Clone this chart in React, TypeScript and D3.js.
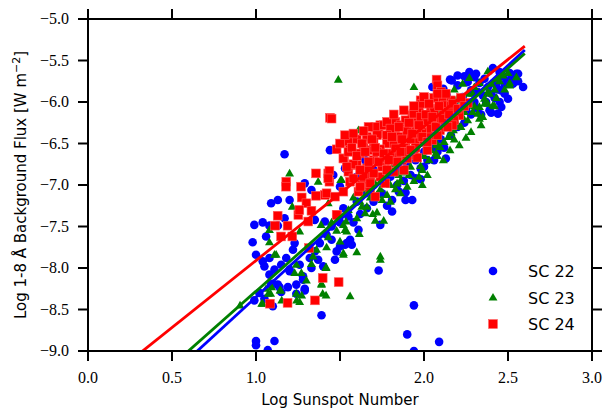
import React from "react";
import * as d3 from "d3";

const xTicks = [0, 0.5, 1.0, 1.5, 2.0, 2.5, 3.0];
const xTickLabels = ["0.0", "0.5", "1.0", "", "2.0", "2.5", "3.0"];
const yTicks = [-9.0, -8.5, -8.0, -7.5, -7.0, -6.5, -6.0, -5.5, -5.0];
const yTickLabels = ["−9.0", "−8.5", "−8.0", "−7.5", "−7.0", "−6.5", "−6.0", "−5.5", "−5.0"];

const seriesNames = ["SC 22", "SC 23", "SC 24"];
const seriesColors = ["#0000ff", "#008000", "#ff0000"];
const fitSlopes = [1.86, 1.79, 1.615];
const fitIntercepts = [-10.21, -10.07, -9.525];
const fitXMax = 2.6;

const sc22: [number, number][] = [
  [1.0,-8.88],[1.0,-8.93],[1.07,-8.99],[1.11,-8.88],[1.9,-8.8],[1.94,-9.0],[2.09,-8.89],[1.39,-8.57],[1.94,-8.45],[1.73,-8.03],
  [1.17,-6.63],[1.44,-6.58],[1.09,-7.22],[1.13,-7.18],[1.2,-7.18],[1.29,-6.98],[1.33,-7.06],[1.04,-7.45],[1.08,-7.49],[0.98,-7.69],
  [1.06,-7.62],[1.17,-7.4],[1.13,-7.49],[1.23,-7.7],[1.35,-7.42],[1.41,-7.44],[1.45,-7.66],[1.54,-7.7],[1.0,-7.84],[1.04,-7.92],
  [1.08,-7.88],[1.11,-8.02],[1.15,-7.96],[1.18,-7.88],[1.2,-8.02],[1.28,-8.14],[1.33,-8.0],[1.37,-7.9],[1.1,-8.19],[1.14,-8.23],
  [1.19,-8.23],[1.29,-8.25],[1.24,-8.31],[1.1,-8.46],[1.22,-7.78],[1.53,-6.8],
  [1.05,-7.98],[1.08,-8.08],[1.09,-8.2],[1.13,-8.2],[1.24,-8.2],[1.29,-8.27],[1.2,-8.04],[1.15,-8.29],[0.99,-8.39],[1.02,-8.3],
  [1.05,-8.37],[1.4,-7.98],[1.47,-7.9],[1.5,-7.74],[1.56,-7.66],[1.28,-8.1],[0.99,-7.48],
  [1.81,-7.18],[1.89,-7.18],[1.93,-7.18],[1.81,-7.32],[1.74,-7.48],[1.61,-7.54],[1.57,-7.72],[1.53,-7.72],[1.48,-7.8],[1.46,-6.88],
  [1.5,-7.02],[1.52,-7.28],[2.05,-5.82],[1.85,-7.08],[1.89,-7.09],[1.98,-6.93],[1.95,-6.92],[1.55,-7.38],[1.6,-7.2],[1.65,-7.1],
  [1.7,-7.0],[1.75,-6.95],[1.8,-6.9],[1.85,-6.8],[1.9,-6.75],[1.95,-6.7],[2.0,-6.6],[2.05,-6.55],[2.1,-6.45],[2.0,-6.78],
  [2.06,-6.7],[1.7,-6.82],[1.6,-6.9],[1.65,-6.7],
  [2.165,-5.74],[2.24,-5.69],[2.31,-5.66],[2.41,-5.59],[2.51,-5.65],[2.56,-5.66],[2.59,-5.82],[2.5,-5.96],[2.45,-6.0],[2.44,-6.14],
  [2.4,-6.13],[2.39,-6.1],[2.115,-5.84],[2.135,-5.92],[2.075,-5.82],[2.47,-5.69],[2.43,-5.8],[2.46,-5.86],[2.33,-5.77],[2.28,-5.86],
  [2.23,-5.94],[2.35,-5.92],[2.13,-6.68],[2.55,-5.66],[2.155,-5.73],[2.5,-5.75],[2.53,-5.78],[2.48,-5.9],[2.42,-5.95],[2.37,-6.0],
  [2.3,-6.0],[2.25,-6.08],[2.2,-6.1],[2.15,-6.2],[2.1,-6.3],[2.05,-6.35],[2.2,-5.8],[2.26,-5.76],[2.36,-5.72],[2.45,-5.64],
  [2.52,-5.72],[2.38,-5.82],[2.32,-5.88],[2.18,-6.0],[2.12,-6.05],[2.46,-6.06],[2.34,-6.15],
  [1.58,-7.45],[1.62,-7.35],[1.66,-7.28],[1.7,-7.2],[1.75,-7.1],[1.78,-7.25],[1.84,-7.0],[1.88,-6.95],[1.92,-6.88],[1.98,-6.8],
  [2.02,-6.7],[2.08,-6.6],[2.12,-6.55],[2.16,-6.4],[2.2,-6.3],[2.24,-6.25],[2.28,-6.15],[2.32,-6.08],[2.4,-5.9],[2.44,-5.85],
  [2.48,-5.78],[2.56,-5.75],[2.3,-5.7],[2.27,-5.64],[2.2,-5.68],[1.42,-7.6],[1.38,-7.7],[1.35,-7.8],[1.32,-7.88],[1.26,-7.96],
  [1.45,-7.5],[1.5,-7.45],
];

const sc23: [number, number][] = [
  [1.49,-5.73],[1.94,-5.82],[1.61,-6.34],[1.2,-6.86],[1.216,-7.26],[1.74,-7.9],
  [1.08,-7.54],[1.08,-7.69],[1.11,-7.84],[1.26,-7.56],[1.387,-7.48],[1.43,-7.63],[1.417,-7.99],[1.39,-8.19],[1.397,-8.31],[1.06,-8.25],
  [1.087,-8.31],[1.04,-8.43],[1.147,-8.27],[1.24,-8.31],[1.26,-8.41],[1.23,-8.06],[1.27,-8.06],[1.417,-8.33],[1.52,-7.82],[1.5,-7.68],
  [1.36,-7.78],[1.34,-7.86],[1.12,-7.84],[1.37,-6.96],[1.504,-6.94],[1.536,-7.44],[1.53,-7.54],[1.43,-7.22],[0.905,-8.45],[1.034,-8.43],
  [1.153,-8.39],[1.242,-8.39],[1.093,-8.23],[1.073,-8.31],[1.143,-8.27],[1.272,-8.33],[1.39,-8.2],[1.56,-8.34],[1.417,-8.0],[1.24,-7.96],
  [1.51,-6.94],[1.52,-7.48],[1.54,-7.56],[1.615,-7.59],[1.52,-7.84],[1.6,-7.81],[1.74,-7.86],[1.63,-7.26],[1.65,-7.34],[1.695,-7.35],
  [1.71,-7.43],[1.76,-7.43],[1.72,-7.33],[1.75,-7.18],[1.83,-7.05],[1.9,-7.02],[1.99,-7.0],[1.97,-6.9],[2.02,-6.88],[1.99,-6.82],
  [2.03,-6.7],[2.07,-6.62],[2.075,-6.52],[1.91,-6.88],[1.85,-6.88],[1.98,-6.77],[1.66,-7.26],
  [1.65,-7.05],[1.7,-6.95],[1.78,-6.85],[1.82,-6.75],[1.88,-6.65],[1.93,-6.55],[1.97,-6.45],[2.02,-6.38],[1.72,-7.12],[1.8,-7.0],
  [1.86,-6.95],[1.58,-7.15],
  [2.28,-6.36],[2.25,-6.43],[2.21,-6.52],[2.155,-6.58],[2.115,-6.7],[2.095,-6.54],[2.34,-6.28],[2.33,-6.2],[2.41,-6.04],[2.51,-5.77],
  [2.23,-5.78],[2.18,-5.85],[2.27,-6.04],[2.29,-6.12],[2.36,-5.96],[2.39,-5.9],[2.33,-6.06],[2.23,-6.18],[2.2,-6.27],[2.175,-6.34],
  [2.145,-6.42],[2.075,-6.5],[2.29,-5.9],[2.33,-5.77],[2.35,-6.18],[2.42,-6.05],[2.51,-5.8],[2.38,-5.63],[2.27,-5.71],[2.45,-5.75],
  [2.48,-5.85],[2.55,-5.7],[2.43,-5.95],[2.38,-6.02],[2.12,-6.3],[2.1,-6.2],[2.15,-6.1],[2.05,-6.3],[2.0,-6.5],[2.22,-5.98],
  [2.3,-5.82],[2.4,-5.78],[2.19,-6.15],
  [1.6,-7.4],[1.62,-7.2],[1.68,-7.15],[1.74,-7.05],[1.78,-7.12],[1.84,-6.98],[1.88,-6.85],[1.92,-6.78],[1.95,-6.62],[2.0,-6.65],
  [2.04,-6.58],[2.08,-6.42],[2.12,-6.48],[2.16,-6.38],[2.18,-6.22],[2.22,-6.3],[2.24,-6.12],[2.26,-6.22],[2.3,-6.05],[2.32,-6.14],
  [2.36,-6.02],[2.38,-5.88],[2.42,-5.85],[2.44,-5.72],[2.47,-5.68],[2.5,-5.65],[2.26,-5.9],[2.2,-5.95],[2.14,-6.0],[2.1,-6.1],
  [2.06,-6.2],[1.8,-7.2],[1.86,-7.1],[1.94,-6.95],[2.08,-6.65],[2.18,-6.45],[1.55,-7.3],[1.45,-7.45],[1.48,-7.55],[1.42,-7.75],
  [1.33,-7.95],[1.3,-8.15],
];

const sc24: [number, number][] = [
  [1.357,-6.86],[1.18,-6.96],[1.179,-7.02],[1.268,-7.02],[1.272,-7.15],[1.129,-7.37],[1.113,-7.49],[1.188,-7.49],[1.149,-7.62],[1.216,-7.62],
  [1.252,-7.36],[1.311,-7.44],[1.315,-7.76],[1.397,-8.12],[1.492,-8.17],[1.351,-8.39],[1.083,-8.43],[1.188,-8.42],[1.48,-6.57],[1.524,-6.68],
  [1.357,-7.13],[1.3,-7.22],[1.258,-7.3],[1.33,-7.31],[1.43,-6.86],[1.41,-7.12],[1.484,-7.36],[1.437,-6.96],[1.44,-6.19],[1.437,-6.83],
  [1.43,-6.92],[1.42,-7.1],
  [2.075,-5.73],[2.0,-5.96],[1.97,-6.1],[1.93,-6.16],[1.83,-6.24],[1.74,-6.28],[1.66,-6.44],[1.55,-6.48],[1.52,-6.68],[1.45,-6.2],
  [1.56,-6.58],[1.6,-6.76],[1.55,-6.84],[1.56,-6.96],[1.63,-7.0],[1.61,-7.08],[1.52,-7.08],[1.47,-7.14],[1.48,-7.36],[1.71,-7.14],
  [1.68,-7.04],[1.77,-6.98],[1.82,-6.84],[1.88,-6.82],[1.87,-6.7],[1.77,-6.72],[1.7,-6.7],[1.69,-6.58],[1.78,-6.5],[1.89,-6.52],
  [1.96,-6.48],[2.0,-6.36],[2.055,-6.24],[2.04,-6.08],[1.92,-6.32],[1.83,-6.36],[1.73,-6.38],[1.64,-6.54],[1.74,-6.57],[1.84,-6.62],
  [1.94,-6.64],[2.02,-6.58],[1.76,-6.28],[1.86,-6.28],
  [2.08,-5.8],[2.1,-5.88],[2.11,-5.95],[1.98,-5.98],[2.16,-5.98],[2.26,-6.01],[2.18,-6.1],[2.21,-6.16],[2.125,-6.04],[2.04,-6.16],
  [1.89,-6.22],[1.98,-6.28],[2.095,-6.34],[2.18,-6.22],[2.17,-6.28],[2.05,-6.46],[1.95,-6.46],[2.04,-6.4],[1.96,-6.67],
  [1.71,-6.3],[1.78,-6.24],[1.99,-6.02],[2.0,-5.94],[1.66,-6.42],[1.72,-6.4],[1.8,-6.32],[1.94,-6.14],
  [1.58,-6.75],[1.62,-6.62],[1.66,-6.8],[1.68,-6.9],[1.7,-6.48],[1.72,-6.6],[1.75,-6.78],[1.78,-6.4],[1.8,-6.62],[1.82,-6.5],
  [1.84,-6.72],[1.86,-6.42],[1.88,-6.55],[1.9,-6.35],[1.92,-6.45],[1.94,-6.25],[1.96,-6.38],[1.98,-6.18],[2.0,-6.48],[2.02,-6.22],
  [2.04,-6.32],[2.06,-6.1],[2.08,-6.4],[2.1,-6.22],[2.12,-6.12],[2.14,-6.3],[2.16,-6.05],[1.64,-6.9],[1.74,-6.9],[1.9,-6.68],
  [1.6,-6.45],[1.67,-6.3],[1.62,-7.02],[1.55,-6.6],[1.58,-6.92],[1.82,-6.15],[1.88,-6.1],[1.94,-6.05],[2.06,-5.95],
  [1.5,-6.5],[1.53,-6.4],[1.57,-6.55],[1.6,-6.65],[1.63,-6.5],[1.65,-6.6],[1.67,-6.72],[1.69,-6.45],[1.71,-6.55],[1.73,-6.72],
  [1.76,-6.62],[1.79,-6.7],[1.81,-6.42],[1.83,-6.56],[1.85,-6.3],[1.87,-6.45],[1.89,-6.6],[1.91,-6.25],[1.93,-6.38],[1.95,-6.55],
  [1.97,-6.28],[1.99,-6.42],[2.01,-6.15],[2.03,-6.02],[2.05,-6.18],[2.07,-6.3],[2.09,-6.05],[2.11,-6.2],[2.13,-5.9],[2.15,-6.15],
  [2.17,-6.02],[2.2,-6.08],[2.22,-5.95],[2.24,-6.05],[1.62,-6.82],[1.7,-6.86],[1.78,-6.82],[1.86,-6.6],[1.92,-6.58],[1.58,-6.38],
  [1.64,-6.35],[1.54,-6.78],[1.68,-6.98],[2.02,-6.48],[2.08,-5.9],
];

const seriesData = [sc22, sc23, sc24];

const W = 609;
const H = 409;
const left = 88;
const right = 592;
const top = 19;
const bottom = 351;

const x = d3.scaleLinear().domain([0, 3]).range([left, right]);
const y = d3.scaleLinear().domain([-9, -5]).range([bottom, top]);

const triPath = d3.symbol(d3.symbolTriangle, 34)() as string;

function Marker({ kind, cx, cy, color }: { kind: number; cx: number; cy: number; color: string }) {
  if (kind === 0) return <circle cx={cx} cy={cy} r={4.3} fill={color} />;
  if (kind === 1) return <path d={triPath} transform={`translate(${cx},${cy + 0.5})`} fill={color} />;
  return <rect x={cx - 4.4} y={cy - 4.4} width={8.8} height={8.8} fill={color} stroke="#ff5a5a" strokeWidth={0.6} />;
}

export default function App() {
  const tickLen = 10;
  const serif = "'Liberation Serif', 'DejaVu Serif', serif";
  const sans = "'DejaVu Sans', sans-serif";
  return (
    <svg width={W} height={H} style={{ position: "absolute", left: 0, top: 0 }}>
      <defs>
        <clipPath id="plotclip">
          <rect x={left} y={top} width={right - left} height={bottom - top} />
        </clipPath>
      </defs>
      <rect x={0} y={0} width={W} height={H} fill="#fff" />
      <g clipPath="url(#plotclip)">
        {seriesData.map((pts, si) => (
          <g key={si}>
            {pts.map((p, i) => (
              <Marker key={i} kind={si} cx={x(p[0])} cy={y(p[1])} color={seriesColors[si]} />
            ))}
          </g>
        ))}
        {fitSlopes.map((m, si) => {
          const x0 = 0;
          const x1 = fitXMax;
          const d = d3.line<[number, number]>().x((p) => x(p[0])).y((p) => y(p[1]))([
            [x0, m * x0 + fitIntercepts[si]],
            [x1, m * x1 + fitIntercepts[si]],
          ]) as string;
          return <path key={si} d={d} stroke={seriesColors[si]} strokeWidth={2.8} fill="none" />;
        })}
      </g>
      <rect x={left} y={top} width={right - left} height={bottom - top} fill="none" stroke="#000" strokeWidth={2} />
      {xTicks.map((t, i) => (
        <g key={"xt" + i}>
          <line x1={x(t)} x2={x(t)} y1={bottom} y2={bottom + tickLen} stroke="#000" strokeWidth={2} />
          <line x1={x(t)} x2={x(t)} y1={top} y2={top - tickLen} stroke="#000" strokeWidth={2} />
          <text x={x(t)} y={383} textAnchor="middle" fontFamily={serif} fontSize={16} fill="#000">
            {xTickLabels[i]}
          </text>
        </g>
      ))}
      {yTicks.map((t, i) => (
        <g key={"yt" + i}>
          <line x1={left - tickLen} x2={left} y1={y(t)} y2={y(t)} stroke="#000" strokeWidth={2} />
          <line x1={right} x2={right + tickLen} y1={y(t)} y2={y(t)} stroke="#000" strokeWidth={2} />
          <text x={69} y={y(t) + 5} textAnchor="end" fontFamily={serif} fontSize={16} fill="#000">
            {yTickLabels[i]}
          </text>
        </g>
      ))}
      <text x={(left + right) / 2} y={405} textAnchor="middle" fontFamily={sans} fontSize={15} fill="#000">
        Log Sunspot Number
      </text>
      <text
        transform={`translate(26,${(top + bottom) / 2}) rotate(-90)`}
        textAnchor="middle"
        fontFamily={sans}
        fontSize={15}
        fill="#000"
      >
        Log 1-8 Å Background Flux [W m
        <tspan dy={-6} fontSize={11}>−2</tspan>
        <tspan dy={6}>]</tspan>
      </text>
      {seriesNames.map((n, i) => (
        <g key={"lg" + i}>
          <Marker kind={i} cx={493} cy={271 + i * 26.5} color={seriesColors[i]} />
          <text x={528} y={277 + i * 26.5} fontFamily={sans} fontSize={16} fill="#000">
            {n}
          </text>
        </g>
      ))}
    </svg>
  );
}
